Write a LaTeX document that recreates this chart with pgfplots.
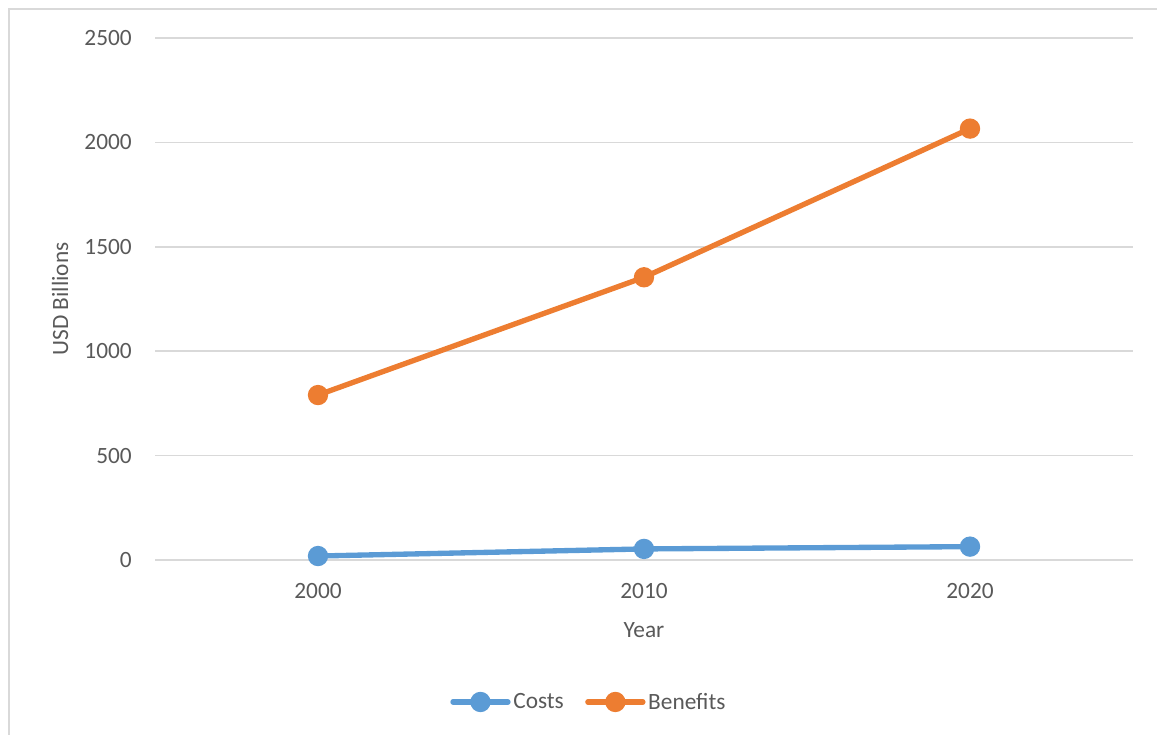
\documentclass[border=0pt]{standalone}
\usepackage{pgfplots}
\pgfplotsset{compat=1.18}
\usepackage{fontspec}
\setmainfont{Carlito}

\definecolor{costblue}{HTML}{5B9BD5}
\definecolor{benorange}{HTML}{ED7D31}
\definecolor{txtgray}{HTML}{595959}
\definecolor{gridgray}{HTML}{D9D9D9}

\begin{document}
\begin{tikzpicture}
  % page frame and the chart border
  \useasboundingbox (0pt,0pt) rectangle (867.75pt,551.25pt);
  \draw[gridgray, line width=1.2pt] (6.75pt,-15pt) -- (6.75pt,544.5pt) -- (885pt,544.5pt);

  \begin{axis}[
    at={(116.25pt,131.25pt)}, anchor=south west,
    scale only axis,
    width=733.5pt, height=391.5pt,
    xmin=-0.5, xmax=2.5,
    ymin=0, ymax=2500,
    xtick={0,1,2}, xticklabels={2000,2010,2020},
    ytick={0,500,1000,1500,2000,2500},
    axis line style={draw=none},
    major tick length=0pt,
    ymajorgrids,
    grid style={gridgray, line width=1.1pt},
    clip=false,
    font=\fontsize{17.5pt}{21pt}\selectfont,
    tick label style={txtgray},
    /pgf/number format/assume math mode=true,
    /pgf/number format/set thousands separator={},
    yticklabel style={anchor=east, inner sep=0pt, xshift=-17.25pt},
    xticklabel style={anchor=north, inner sep=0pt, yshift=-17.25pt},
    xlabel={Year},
    ylabel={USD Billions},
    every axis x label/.style={at={(axis description cs:0.5,-0.134)}, anchor=center, txtgray},
    every axis y label/.style={at={(axis description cs:-0.0971,0.5)}, rotate=90, anchor=center, txtgray},
    legend columns=2,
    legend style={at={(axis description cs:0.444,-0.272)}, anchor=center,
      draw=none, fill=none, text=txtgray,
      /tikz/every even column/.append style={column sep=14pt},
      inner sep=0pt},
    legend image code/.code={%
      \draw[mark repeat=2,mark phase=2,#1] plot coordinates {(0pt,0pt) (20.6pt,0pt) (41.25pt,0pt)};},
    every axis plot/.append style={line width=4pt, line cap=round, mark=*, mark size=5.6pt},
  ]
    \addplot[costblue, mark options={fill=costblue, draw=none}]
      coordinates {(0,19) (1,53) (2,64)};
    \addlegendentry{Costs}
    \addplot[benorange, mark options={fill=benorange, draw=none}]
      coordinates {(0,790) (1,1354) (2,2066)};
    \addlegendentry{Benefits}
  \end{axis}
\end{tikzpicture}
\end{document}
